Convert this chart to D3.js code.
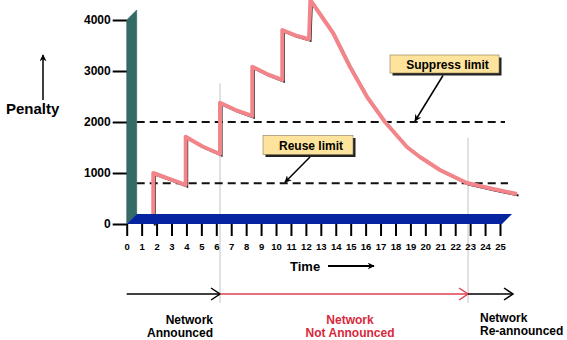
<!DOCTYPE html>
<html>
<head>
<meta charset="utf-8">
<script src="https://cdn.jsdelivr.net/npm/d3@7"></script>
<style>
  body { margin: 0; background: #fff; }
  text { font-family: "Liberation Sans", Arial, Helvetica, sans-serif; font-weight: bold; }
</style>
</head>
<body>
<div id="chart"></div>
<script>
// penalty curve (time units, penalty)
const curveTime = [1.78, 1.78, 2.9, 3.95, 3.95, 5.05, 6.25, 6.25, 7.3, 8.41, 8.41, 9.4, 10.42, 10.42, 11.3, 12.21,
    12.3, 13.82, 14.96, 16.1, 17.3, 18.77, 19.64, 20.98, 22.79, 24.54, 26.14];
const curvePenalty = [0, 1000, 882, 765, 1712, 1525, 1373, 2378, 2235, 2118, 3084, 2940, 2824, 3804, 3700, 3622,
    4392, 3745, 3078, 2490, 2000, 1510, 1314, 1059, 804, 686, 588];

const yTicks = [0, 1000, 2000, 3000, 4000];
const xTicks = d3.range(0, 26);

const suppressLimit = 2000;
const reuseLimit = 800;

const markerTimes = [6.25, 22.86];
const markerTops = [2760, 1690];

const phaseBounds = [0, 6.25, 22.86, 25.87];
const phaseLabels = [["Network", "Announced"], ["Network", "Not Announced"], ["Network", "Re-announced"]];

const width = 567, height = 340;

const x = d3.scaleLinear().domain([0, 25]).range([126.7, 500]);
const y = d3.scaleLinear().domain([0, 4000]).range([224, 20]);
const depth = 10;

const svg = d3.select("#chart")
    .append("svg")
    .attr("width", width)
    .attr("height", height);

const defs = svg.append("defs");
defs.append("marker")
    .attr("id", "head")
    .attr("viewBox", "0 0 10 10")
    .attr("refX", 9).attr("refY", 5)
    .attr("markerWidth", 7).attr("markerHeight", 7)
    .attr("markerUnits", "userSpaceOnUse")
    .attr("orient", "auto")
    .append("path")
    .attr("d", "M0,0 L10,5 L0,10 L3,5 Z")
    .attr("fill", "#000");

// grey phase markers
svg.selectAll(".marker-line")
    .data(markerTimes)
    .join("line")
    .attr("class", "marker-line")
    .attr("x1", d => x(d)).attr("x2", d => x(d))
    .attr("y1", (d, i) => y(markerTops[i]))
    .attr("y2", 303)
    .attr("stroke", "#c4c4c4")
    .attr("stroke-width", 1);

// limit lines
svg.selectAll(".limit")
    .data([suppressLimit, reuseLimit])
    .join("line")
    .attr("class", "limit")
    .attr("x1", x(0) + depth)
    .attr("x2", (d, i) => i === 0 ? 505 : 508)
    .attr("y1", d => y(d)).attr("y2", d => y(d))
    .attr("stroke", "#111")
    .attr("stroke-width", 2)
    .attr("stroke-dasharray", "8,5");

// curve
const pts = curveTime.map((t, i) => [t, curvePenalty[i]]);
const line = d3.line()
    .x(d => x(d[0]))
    .y(d => y(d[1]));

svg.append("path")
    .datum(pts)
    .attr("d", line)
    .attr("transform", "translate(1.5,1.5)")
    .attr("fill", "none")
    .attr("stroke", "#111")
    .attr("stroke-width", 2);

svg.append("path")
    .datum(pts)
    .attr("d", line)
    .attr("fill", "none")
    .attr("stroke", "#f2858a")
    .attr("stroke-width", 4)
    .attr("stroke-linejoin", "round");

// wall
svg.append("path")
    .attr("d", `M${x(0)},${y(4000)} L${x(0) + depth},${y(4000) - depth} L${x(0) + depth},${y(0) - depth} L${x(0)},${y(0)} Z`)
    .attr("fill", "#356b66")
    .attr("stroke", "#2a524e")
    .attr("stroke-width", 0.5);

// floor
svg.append("path")
    .attr("d", `M${x(0) + depth},${y(0) - depth} L${x(25) + 12},${y(0) - depth} L${x(25) + 2},${y(0)} L${x(0)},${y(0)} Z`)
    .attr("fill", "#0624a0");

// axes
const yAxis = svg.append("g")
    .attr("transform", `translate(${x(0)},0)`)
    .call(d3.axisLeft(y).tickValues(yTicks).tickSize(14).tickPadding(2).tickFormat(d3.format("d")));
yAxis.select(".domain").remove();
yAxis.selectAll(".tick line").attr("stroke", "#000").attr("stroke-width", 2);
yAxis.selectAll(".tick text").style("font-size", "12px").attr("fill", "#000");

const xAxis = svg.append("g")
    .attr("transform", `translate(0,${y(0)})`)
    .call(d3.axisBottom(x).tickValues(xTicks).tickSize(12).tickPadding(7).tickFormat(d3.format("d")));
xAxis.select(".domain").remove();
xAxis.selectAll(".tick line").attr("stroke", "#000").attr("stroke-width", 2);
xAxis.selectAll(".tick text").style("font-size", "9.5px").attr("fill", "#000");

// axis titles
svg.append("text")
    .attr("x", 6).attr("y", 114)
    .style("font-size", "15px")
    .text("Penalty");
svg.append("line")
    .attr("x1", 43).attr("x2", 43)
    .attr("y1", 100).attr("y2", 55)
    .attr("stroke", "#000").attr("stroke-width", 1.5)
    .attr("marker-end", "url(#head)");

svg.append("text")
    .attr("x", 290).attr("y", 271)
    .style("font-size", "13px")
    .text("Time");
svg.append("line")
    .attr("x1", 328).attr("x2", 374)
    .attr("y1", 266).attr("y2", 266)
    .attr("stroke", "#000").attr("stroke-width", 2)
    .attr("marker-end", "url(#head)");

// annotation boxes
function labelBox(cx, cy, w, h, label, tx, ty, sx, sy) {
    svg.append("rect")
        .attr("x", cx - w / 2 + 2.5).attr("y", cy - h / 2 + 2.5)
        .attr("width", w).attr("height", h)
        .attr("fill", "#222");
    svg.append("rect")
        .attr("x", cx - w / 2).attr("y", cy - h / 2)
        .attr("width", w).attr("height", h)
        .attr("fill", "#fde39c")
        .attr("stroke", "#8a7a50")
        .attr("stroke-width", 0.6);
    svg.append("text")
        .attr("x", cx + 3).attr("y", cy + 4.5)
        .attr("text-anchor", "middle")
        .style("font-size", "12px")
        .text(label);
    svg.append("line")
        .attr("x1", sx).attr("y1", sy)
        .attr("x2", tx).attr("y2", ty)
        .attr("stroke", "#000").attr("stroke-width", 1.5)
        .attr("marker-end", "url(#head)");
}
labelBox(444.5, 64, 109, 18, "Suppress limit", 415, y(suppressLimit) - 1, 443, 75.5);
labelBox(308, 145, 90, 19, "Reuse limit", 285, y(reuseLimit) - 1, 310, 157);

// bottom phase arrows
const phaseColors = ["#000", "#e0404e", "#000"];
const arrowY = 294;
phaseBounds.slice(0, -1).forEach((t0, i) => {
    const x0 = x(t0), x1 = x(phaseBounds[i + 1]);
    svg.append("line")
        .attr("x1", x0).attr("x2", x1)
        .attr("y1", arrowY).attr("y2", arrowY)
        .attr("stroke", phaseColors[i]).attr("stroke-width", 1.5);
    svg.append("path")
        .attr("d", `M${x1 - 9},${arrowY - 6} L${x1},${arrowY} L${x1 - 9},${arrowY + 6}`)
        .attr("fill", "none")
        .attr("stroke", phaseColors[i]).attr("stroke-width", 1.5);
});

const labelX = [x(6.25) - 7, (x(6.25) + x(22.86)) / 2 + 6, x(22.86) + 12];
const anchors = ["end", "middle", "start"];
const textColors = ["#000", "#d8283c", "#000"];
const labelY = [323.5, 337];
phaseLabels.forEach((lines, i) => {
    const t = svg.append("text")
        .attr("text-anchor", anchors[i])
        .attr("fill", textColors[i])
        .style("font-size", "12px");
    lines.forEach((s, j) => {
        t.append("tspan")
            .attr("x", labelX[i])
            .attr("y", labelY[j] - (i === 2 ? 2 : 0))
            .text(s);
    });
});
</script>
</body>
</html>
